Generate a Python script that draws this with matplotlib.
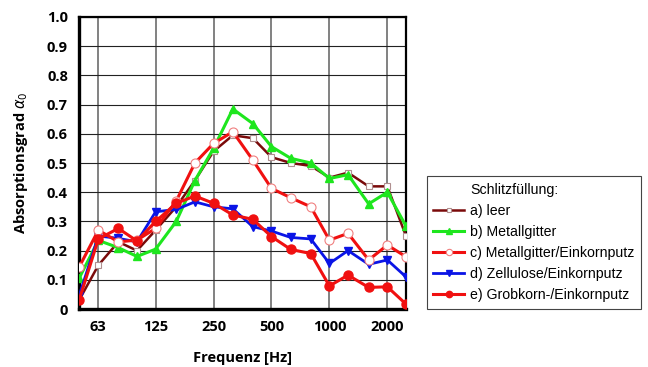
import matplotlib
matplotlib.use("Agg")
import matplotlib.pyplot as plt
from matplotlib.lines import Line2D

# Terzband-Mittenfrequenzen
freq = [50, 63, 80, 100, 125, 160, 200, 250, 315, 400, 500, 630, 800, 1000, 1250, 1600, 2000, 2500]

# Absorptionsgrad je Schlitzfuellung
leer = [0.03, 0.15, 0.23, 0.20, 0.27, 0.35, 0.44, 0.54, 0.595, 0.585, 0.52, 0.50, 0.49, 0.45, 0.467, 0.42, 0.42, 0.25]
metallgitter = [0.105, 0.235, 0.21, 0.18, 0.205, 0.30, 0.44, 0.55, 0.685, 0.635, 0.556, 0.516, 0.50, 0.447, 0.46, 0.36, 0.40, 0.284]
metall_einkorn = [0.143, 0.27, 0.23, 0.236, 0.276, 0.37, 0.50, 0.567, 0.607, 0.51, 0.413, 0.381, 0.35, 0.236, 0.259, 0.168, 0.219, 0.179]
zellulose = [0.045, 0.25, 0.242, 0.23, 0.333, 0.341, 0.367, 0.35, 0.343, 0.282, 0.267, 0.245, 0.24, 0.156, 0.20, 0.153, 0.168, 0.11]
grobkorn = [0.03, 0.24, 0.276, 0.233, 0.30, 0.362, 0.387, 0.362, 0.322, 0.307, 0.248, 0.204, 0.19, 0.079, 0.116, 0.074, 0.076, 0.017]

xticks = [63, 125, 250, 500, 1000, 2000]
yticks = [0, 0.1, 0.2, 0.3, 0.4, 0.5, 0.6, 0.7, 0.8, 0.9, 1.0]
ylabels = ["0", "0.1", "0.2", "0.3", "0.4", "0.5", "0.6", "0.7", "0.8", "0.9", "1.0"]

labels = ["a) leer", "b) Metallgitter", "c) Metallgitter/Einkornputz",
          "d) Zellulose/Einkornputz", "e) Grobkorn-/Einkornputz"]

fig = plt.figure(figsize=(6.48, 3.67), dpi=100)
ax = fig.add_axes([0.122, 0.158, 0.5045, 0.7957])

dunkelrot = "#7a0a0a"
gruen = "#1ee61e"
rot = "#f01010"
blau = "#0a14e6"

h1, = ax.plot(freq, leer, color=dunkelrot, lw=1.8, marker="s", ms=5,
              mfc="white", mec="#b09090", mew=0.8, zorder=3)
h2, = ax.plot(freq, metallgitter, color=gruen, lw=2.2, marker="^", ms=6,
              mfc=gruen, mec=gruen, zorder=4)
h3, = ax.plot(freq, metall_einkorn, color=rot, lw=2.2, marker="o", ms=6.5,
              mfc="white", mec="#f08080", mew=0.8, zorder=5)
h4, = ax.plot(freq, zellulose, color=blau, lw=2.0, marker="v", ms=6,
              mfc=blau, mec=blau, zorder=4)
h5, = ax.plot(freq, grobkorn, color=rot, lw=2.2, marker="o", ms=6.5,
              mfc=rot, mec=rot, zorder=5)

ax.set_xscale("log")
ax.set_xlim(50, 2500)
ax.set_ylim(0, 1.0)
ax.set_xticks(xticks)
ax.set_xticklabels([str(t) for t in xticks])
ax.minorticks_off()
ax.set_yticks(yticks)
ax.set_yticklabels(ylabels)
ax.tick_params(length=0, pad=8, labelsize=10.5)
for lab in ax.get_xticklabels() + ax.get_yticklabels():
    lab.set_fontfamily("Open Sans")
    lab.set_fontweight("bold")

ax.grid(True, axis="y", color="#222222", lw=0.8)
ax.grid(True, axis="x", color="#777777", lw=1.3)
ax.set_axisbelow(True)

for side in ["left", "bottom"]:
    ax.spines[side].set_linewidth(2.4)
for side in ["top", "right"]:
    ax.spines[side].set_linewidth(1.6)

ax.set_xlabel("Frequenz [Hz]", fontfamily="Open Sans", fontweight="bold",
              fontsize=10.5, labelpad=12)
ax.set_ylabel(r"Absorptionsgrad $\alpha_0$", fontfamily="Open Sans",
              fontweight="bold", fontsize=10.5, labelpad=12)

titel = Line2D([], [], color="none")
leg = fig.legend([titel, h1, h2, h3, h4, h5], ["Schlitzfüllung:"] + labels,
                 loc="upper left", bbox_to_anchor=(0.652, 0.531),
                 prop={"family": "Liberation Sans", "size": 10.2},
                 fancybox=False, framealpha=1, edgecolor="#444444",
                 handlelength=2.2, handletextpad=0.4, labelspacing=0.5,
                 borderpad=0.45, borderaxespad=0.3, markerscale=0.7)
leg.get_frame().set_linewidth(0.8)

fig.savefig("out.png", dpi=100)
